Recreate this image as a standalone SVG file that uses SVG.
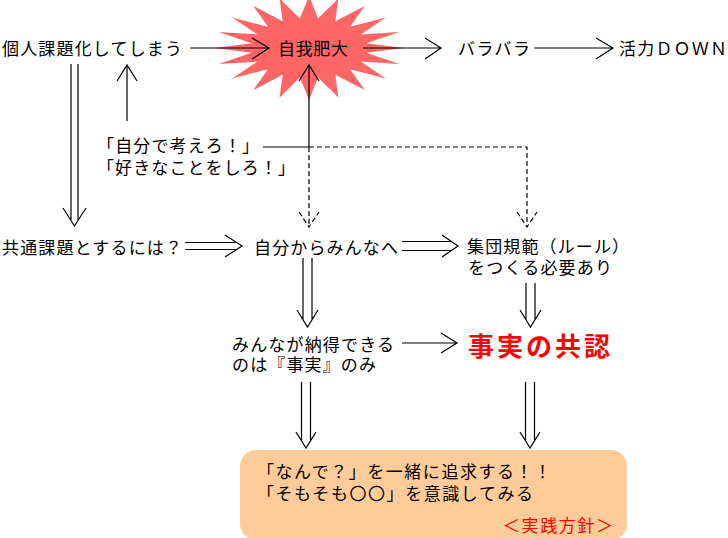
<svg xmlns="http://www.w3.org/2000/svg" width="728" height="538" viewBox="0 0 728 538">
<style>
text{font-family:"Liberation Sans","Noto Sans CJK JP",sans-serif;font-size:17px;fill:#000}
.red{fill:#f00}
.big{font-size:26px;font-weight:bold}
.ln{fill:none;stroke:#000;stroke-width:1.2}
.dash{fill:none;stroke:#000;stroke-width:1.2;stroke-dasharray:5 3}
</style>
<rect width="728" height="538" fill="#fff"/>
<g id="star-jigahidai">
<polygon fill="#ff6666" points="404,48 366.3,52.7 399.4,64.1 360.7,61.6 385.9,78.6 350,69.2 364.8,90.1 335.3,74.7 338.4,97.5 318.1,77.6 309,100 299.9,77.6 279.6,97.5 282.7,74.7 253.2,90.1 268,69.2 232.1,78.6 257.3,61.6 218.6,64.1 251.7,52.7 214,48 251.7,43.3 218.6,31.9 257.3,34.4 232.1,17.4 268,26.8 253.2,5.9 282.7,21.3 279.6,-1.5 299.9,18.4 309,-4 318.1,18.4 338.4,-1.5 335.3,21.3 364.8,5.9 350,26.8 385.9,17.4 360.7,34.4 399.4,31.9 366.3,43.3"/>
<text x="278" y="55" textLength="70" lengthAdjust="spacing">自我肥大</text>
</g>
<g id="node-kojin"><text x="2" y="55" textLength="180" lengthAdjust="spacing">個人課題化してしまう</text></g>
<g id="node-barabara"><text x="458" y="55" textLength="72" lengthAdjust="spacing">バラバラ</text></g>
<g id="node-katsuryoku"><text x="619" y="55" textLength="108" lengthAdjust="spacing">活力ＤＯＷＮ</text></g>
<g id="node-jibunde">
<text x="97" y="152" textLength="162" lengthAdjust="spacing">「自分で考えろ！」</text>
<text x="97" y="174" textLength="198" lengthAdjust="spacing">「好きなことをしろ！」</text>
</g>
<g id="node-kyoutsu"><text x="2" y="254" textLength="180" lengthAdjust="spacing">共通課題とするには？</text></g>
<g id="node-jibunkara"><text x="254" y="254" textLength="144" lengthAdjust="spacing">自分からみんなへ</text></g>
<g id="node-shudan">
<text x="467" y="253" textLength="162" lengthAdjust="spacing">集団規範（ルール）</text>
<text x="468" y="274" textLength="144" lengthAdjust="spacing">をつくる必要あり</text>
</g>
<g id="node-minna">
<text x="232" y="351" textLength="162" lengthAdjust="spacing">みんなが納得できる</text>
<text x="232" y="371" textLength="144" lengthAdjust="spacing">のは『事実』のみ</text>
</g>
<g id="node-kyounin"><text class="red big" x="468" y="356" textLength="142" lengthAdjust="spacing">事実の共認</text></g>
<g id="node-jissen">
<rect x="240" y="450" width="387" height="90" rx="16" ry="16" fill="#ffcc99"/>
<text x="257" y="478" textLength="294" lengthAdjust="spacing">「なんで？」を一緒に追求する！！</text>
<text x="257" y="500" textLength="276" lengthAdjust="spacing">「そもそも〇〇」を意識してみる</text>
<text class="red" x="503" y="532" textLength="110" lengthAdjust="spacing">＜実践方針＞</text>
</g>
<g id="connectors">
<path class="ln" d="M190,48H269M252,38L269,48L252,59"/>
<path class="ln" d="M363,48H441M425,38L441,48L425,59"/>
<path class="ln" d="M534,48H613M596,38L613,48L596,59"/>
<path class="ln" d="M127,121V65M117,81L127,65L137,81"/>
<path class="ln" d="M263,147H309M309,147V65M299,81L309,65L319,81"/>
<path class="dash" d="M309,147H527V227M309,147V227"/>
<path class="dash" d="M299,212L309,227L319,212M517,212L527,227L537,212"/>
<path class="ln" d="M71,64V220M78,64V220M63,208L74.5,226L86,208"/>
<path class="ln" d="M185,242.5H236M185,249.5H236M225,235L242,246L225,257"/>
<path class="ln" d="M402,241.5H452M402,250.5H452M442,235L458,246L442,257"/>
<path class="ln" d="M303,258V320M312,258V320M297,310L307.5,327L318,310"/>
<path class="ln" d="M526,283V320M535,283V320M520,310L530.5,327L541,310"/>
<path class="ln" d="M402,343H457M441,333L457,343L441,353"/>
<path class="ln" d="M301.5,382V441M310.5,382V441M296,432L306,448L316,432"/>
<path class="ln" d="M525.5,382V441M534.5,382V441M520,432L530,448L540,432"/>
</g>
</svg>
